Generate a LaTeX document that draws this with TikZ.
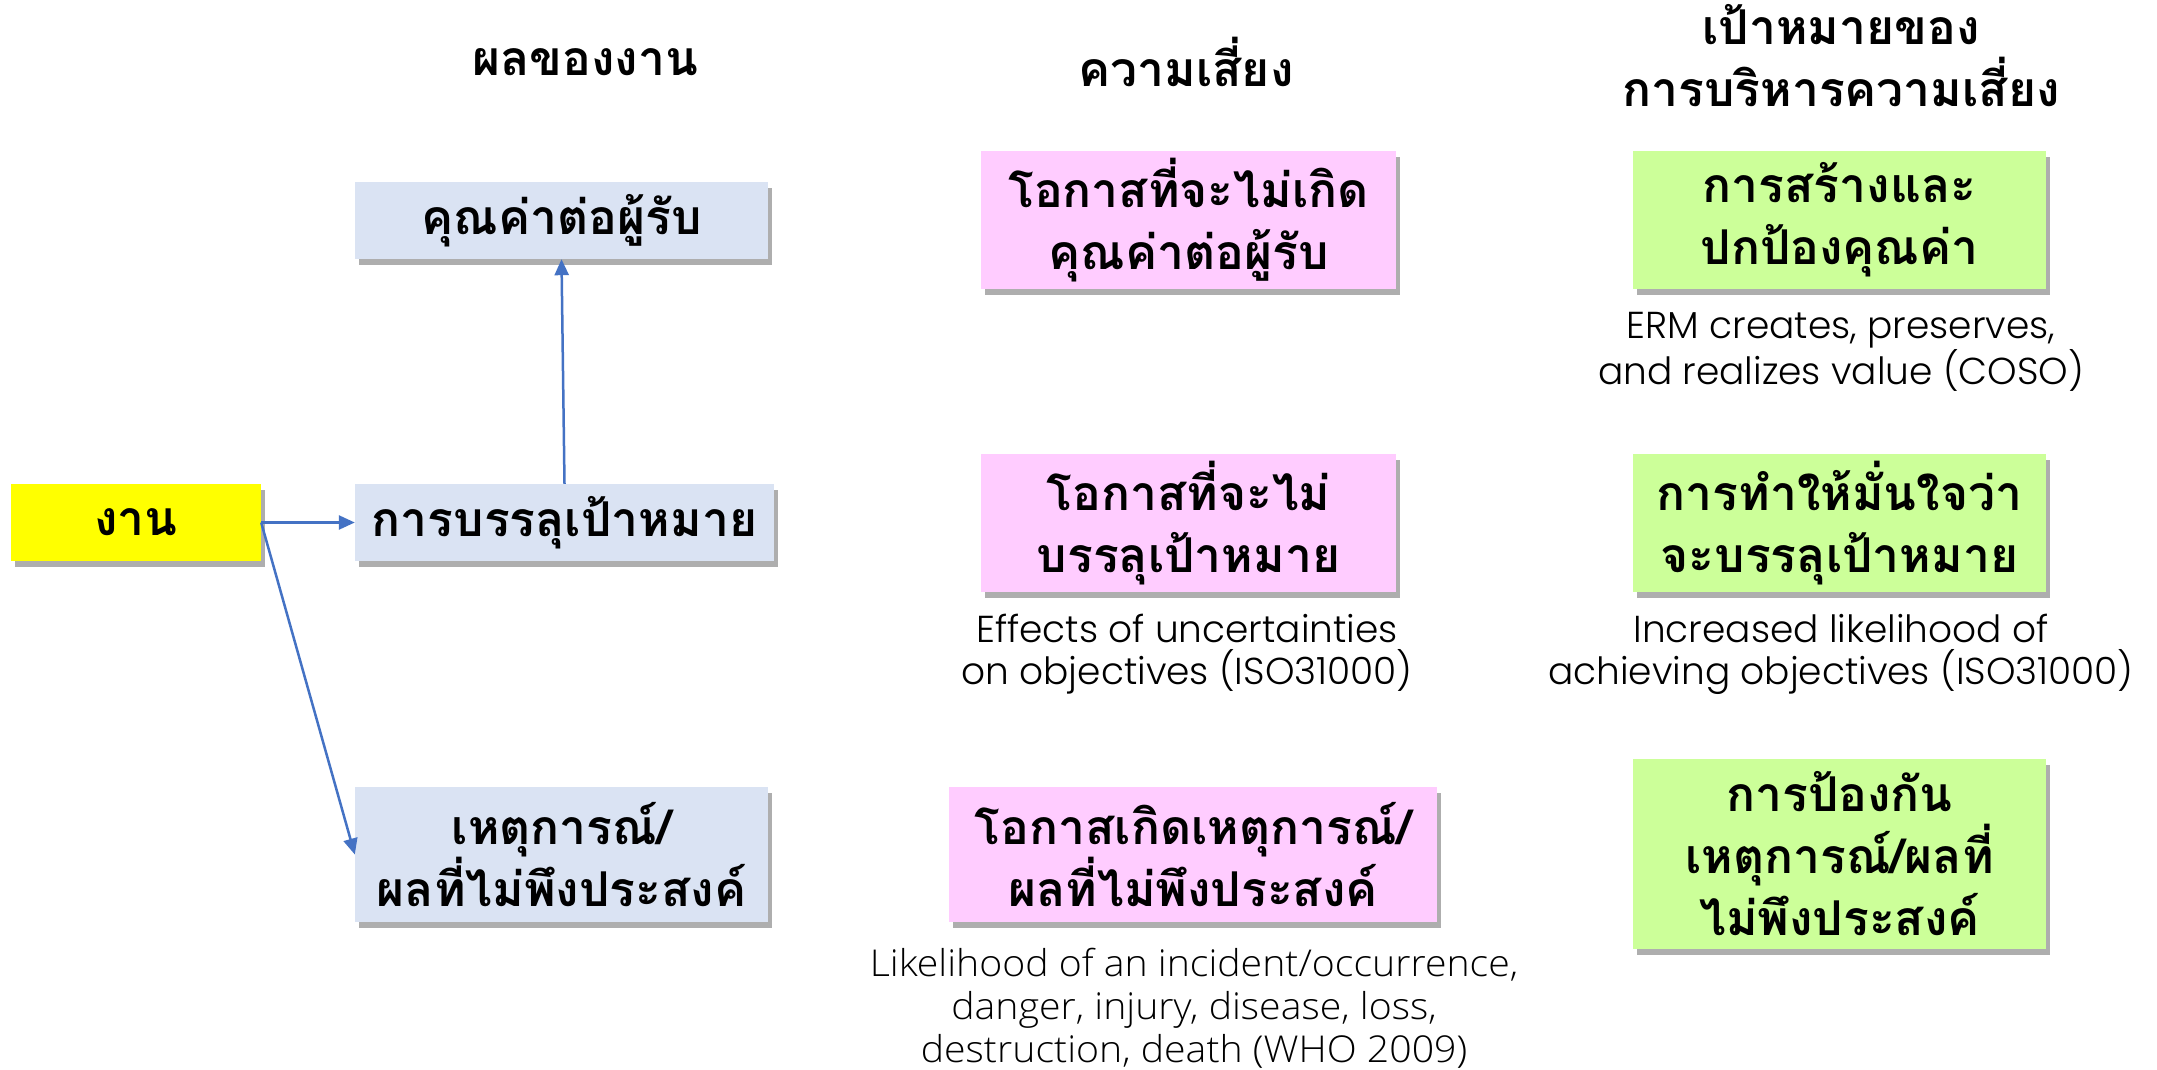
\documentclass[tikz,border=0pt]{standalone}
\usepackage{fontspec}
\newfontfamily\thaifont[Script=Thai]{Loma}
\IfFontExistsTF{Poppins Light}{\newfontfamily\capfont{Poppins Light}}{\newfontfamily\capfont{Poppins}}
\IfFontExistsTF{Open Sans Light}{\newfontfamily\whofont[FakeStretch=1.06]{Open Sans Light}}{\newfontfamily\whofont[FakeStretch=1.06]{Open Sans}}
\usetikzlibrary{arrows.meta,shadows}
\definecolor{yelbox}{HTML}{FFFF00}
\definecolor{bluebox}{HTML}{DAE3F3}
\definecolor{pinkbox}{HTML}{FFCCFF}
\definecolor{greenbox}{HTML}{CCFF99}
\definecolor{arrowblue}{HTML}{4472C4}
\tikzset{
  thaitext/.style={font=\thaifont\bfseries\fontsize{48}{62}\selectfont, align=center, text=black},
  shadowbox/.style={thaitext, inner sep=0pt, drop shadow={shadow xshift=4pt, shadow yshift=-6pt, opacity=0.45, fill=black!70}},
  header/.style={thaitext},
  caption/.style={font=\capfont\fontsize{37.5}{42}\selectfont, align=center, text=black},
  whocaption/.style={font=\whofont\fontsize{37}{43}\selectfont, align=center, text=black},
  conn/.style={draw=arrowblue, line width=2.5pt, -{Triangle[length=16pt,width=14pt]}}
}
\begin{document}
\begin{tikzpicture}[x=1pt,y=-1pt]
\useasboundingbox[fill=white] (0,0) rectangle (2157,1070);

% headers
\node[header] (h1) at (585,62) {ผลของงาน};
\node[header] (h2) at (1186,62) {ความเสี่ยง};
\node[header] (h3) at (1841,56) {เป้าหมายของ\\การบริหารความเสี่ยง};

% left column
\node[shadowbox, fill=yelbox, minimum width=250pt, minimum height=77pt] (work) at (136,522.5) {งาน};
\node[shadowbox, fill=bluebox, minimum width=413pt, minimum height=77pt] (value) at (561.5,220.5) {คุณค่าต่อผู้รับ};
\node[shadowbox, fill=bluebox, minimum width=419pt, minimum height=77pt] (goal) at (564.5,522.5) {การบรรลุเป้าหมาย};
\node[shadowbox, fill=bluebox, minimum width=413pt, minimum height=135pt] (event) at (561.5,854.5) {เหตุการณ์/\\ผลที่ไม่พึงประสงค์};

% middle column
\node[shadowbox, fill=pinkbox, minimum width=415pt, minimum height=138pt] (r1) at (1188.5,220) {โอกาสที่จะไม่เกิด\\คุณค่าต่อผู้รับ};
\node[shadowbox, fill=pinkbox, minimum width=415pt, minimum height=138pt] (r2) at (1188.5,523) {โอกาสที่จะไม่\\บรรลุเป้าหมาย};
\node[shadowbox, fill=pinkbox, minimum width=488pt, minimum height=135pt] (r3) at (1193,854.5) {โอกาสเกิดเหตุการณ์/\\ผลที่ไม่พึงประสงค์};

% right column
\node[shadowbox, fill=greenbox, minimum width=413pt, minimum height=138pt] (g1) at (1839.5,220) {การสร้างและ\\ปกป้องคุณค่า};
\node[shadowbox, fill=greenbox, minimum width=413pt, minimum height=138pt] (g2) at (1839.5,523) {การทำให้มั่นใจว่า\\จะบรรลุเป้าหมาย};
\node[shadowbox, fill=greenbox, minimum width=413pt, minimum height=190pt] (g3) at (1839.5,854) {การป้องกัน\\เหตุการณ์/ผลที่\\ไม่พึงประสงค์};

% captions
\node[caption] (c1) at (1841,352) {ERM creates, preserves,\\and realizes value (COSO)};
\node[caption] (c2) at (1187,654) {Effects of uncertainties\\on objectives (ISO31000)};
\node[caption] (c3) at (1841,654) {Increased likelihood of\\achieving objectives (ISO31000)};
\node[whocaption] (c4) at (1194,1008) {Likelihood of an incident/occurrence,\\danger, injury, disease, loss,\\destruction, death (WHO 2009)};

% connectors
\draw[conn] (work.east) -- (goal.west);
\draw[conn] (goal.north) -- (value.south);
\draw[conn] (work.east) -- (event.west);
\end{tikzpicture}
\end{document}
